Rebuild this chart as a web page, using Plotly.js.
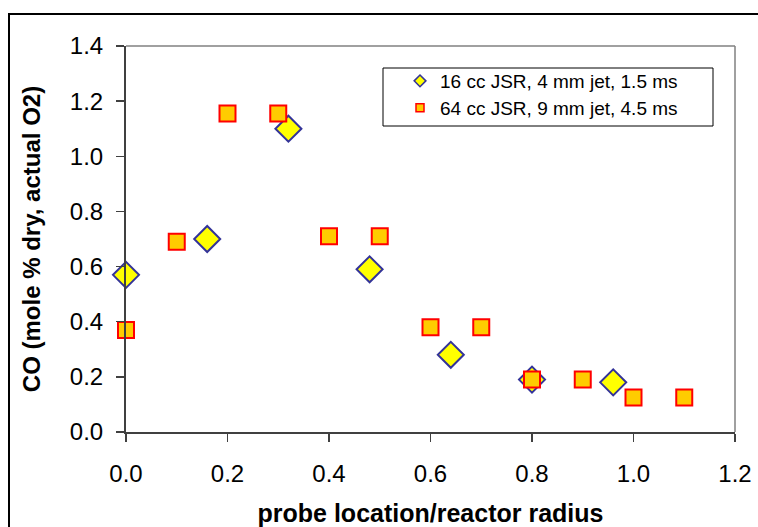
<!DOCTYPE html>
<html>
<head>
<meta charset="utf-8">
<script src="https://cdn.plot.ly/plotly-3.0.1.min.js"></script>
<style>html,body{margin:0;padding:0;background:#fff;}#chart{width:758px;height:527px;}</style>
</head>
<body>
<div id="chart"></div>
<script>
// Data
const seriesNames = ["16 cc JSR, 4 mm jet, 1.5 ms", "64 cc JSR, 9 mm jet, 4.5 ms"];
const jsr16X = [0.0, 0.16, 0.32, 0.48, 0.64, 0.80, 0.96];
const jsr16Y = [0.57, 0.70, 1.10, 0.59, 0.28, 0.19, 0.18];
const jsr64X = [0.0, 0.1, 0.2, 0.3, 0.4, 0.5, 0.6, 0.7, 0.8, 0.9, 1.0, 1.1];
const jsr64Y = [0.37, 0.69, 1.155, 1.155, 0.71, 0.71, 0.38, 0.38, 0.19, 0.19, 0.125, 0.125];
const xTickVals = [0.0, 0.2, 0.4, 0.6, 0.8, 1.0, 1.2];
const yTickVals = [0.0, 0.2, 0.4, 0.6, 0.8, 1.0, 1.2, 1.4];
const xTitle = "probe location/reactor radius";
const yTitle = "CO (mole % dry, actual O2)";

const font = "Liberation Sans, Arial, sans-serif";
const diamondStyle = {symbol: "diamond", color: "#FFFF00", line: {color: "#333399", width: 2}};
const squareStyle = {symbol: "square", color: "#FFCC00", line: {color: "#FF0000", width: 2}};

const traces = [
  {x: jsr16X, y: jsr16Y, type: "scatter", mode: "markers", name: seriesNames[0], showlegend: false,
   cliponaxis: false, marker: Object.assign({size: 20}, diamondStyle)},
  {x: jsr64X, y: jsr64Y, type: "scatter", mode: "markers", name: seriesNames[1], showlegend: false,
   cliponaxis: false, marker: Object.assign({size: 16}, squareStyle)},
  // legend entries (small markers, as in the reference legend)
  {x: [null], y: [null], type: "scatter", mode: "markers", name: seriesNames[0], legend: "legend",
   marker: Object.assign({size: 9}, diamondStyle, {line: {color: "#333399", width: 1.5}})},
  {x: [null], y: [null], type: "scatter", mode: "markers", name: seriesNames[1], legend: "legend2",
   marker: Object.assign({size: 8}, squareStyle, {line: {color: "#FF0000", width: 1.5}})}
];

const W = 609, H = 386, L = 126, T = 46;
const px = v => (v - L) / W;
const py = v => (T + H - v) / H;

const legendBase = {
  xanchor: "left", yanchor: "middle",
  bgcolor: "rgba(0,0,0,0)", borderwidth: 0,
  font: {size: 19, family: font, color: "#000"}
};

const layout = {
  width: 758, height: 527,
  margin: {l: L, r: 758 - L - W, t: T, b: 527 - T - H},
  paper_bgcolor: "#ffffff", plot_bgcolor: "#ffffff",
  font: {family: font, color: "#000"},
  xaxis: {
    range: [0, 1.2], tickvals: xTickVals, tickformat: ".1f",
    showgrid: false, zeroline: false,
    showline: true, linecolor: "#404040", linewidth: 2,
    ticks: "outside", ticklen: 8, tickwidth: 1.5, tickcolor: "#404040",
    tickfont: {size: 24, family: font, color: "#000"},
    ticklabelstandoff: 11,
    title: {text: xTitle, font: {size: 25, family: font, color: "#000", weight: "bold"}, standoff: 19}
  },
  yaxis: {
    range: [0, 1.4], tickvals: yTickVals, tickformat: ".1f",
    showgrid: false, zeroline: false,
    showline: true, linecolor: "#404040", linewidth: 2,
    ticks: "outside", ticklen: 8, tickwidth: 1.5, tickcolor: "#404040",
    tickfont: {size: 24, family: font, color: "#000"},
    ticklabelstandoff: 8,
    title: {text: yTitle, font: {size: 24, family: font, color: "#000", weight: "bold"}, standoff: 22}
  },
  legend: Object.assign({x: px(400), y: py(81)}, legendBase),
  legend2: Object.assign({x: px(400), y: py(108)}, legendBase),
  shapes: [
    // outer chart frame (only top/left visible)
    {type: "rect", xref: "paper", yref: "paper", x0: px(9), x1: px(780), y0: py(14), y1: py(560),
     line: {color: "#000", width: 2}, fillcolor: "rgba(0,0,0,0)", layer: "below"},
    // plot area top/right border
    {type: "line", xref: "paper", yref: "paper", x0: 0, x1: 1, y0: 1, y1: 1, line: {color: "#808080", width: 1.5}},
    {type: "line", xref: "paper", yref: "paper", x0: 1, x1: 1, y0: 0, y1: 1, line: {color: "#808080", width: 1.5}},
    // legend box
    {type: "rect", xref: "paper", yref: "paper", x0: px(383), x1: px(713), y0: py(68), y1: py(126),
     line: {color: "#000", width: 1}, fillcolor: "rgba(0,0,0,0)"}
  ]
};

Plotly.newPlot("chart", traces, layout, {displayModeBar: false, staticPlot: true});
</script>
</body>
</html>
